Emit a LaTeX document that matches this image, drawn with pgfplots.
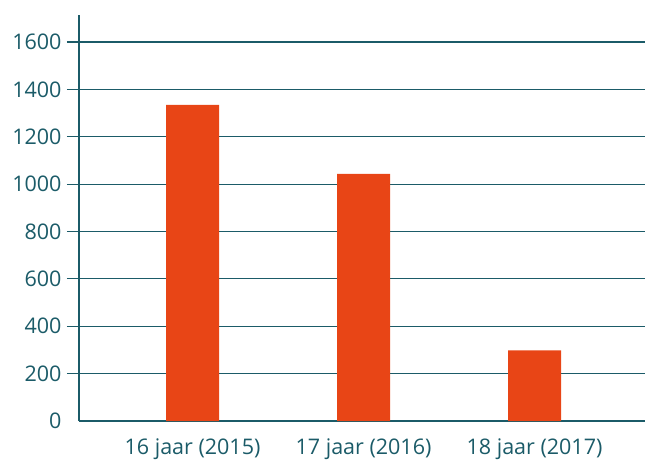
\documentclass[border=0pt]{standalone}
\usepackage{pgfplots}
\pgfplotsset{compat=1.18}
\usepackage{fontspec}
\setmainfont{Open Sans}
\definecolor{tealc}{HTML}{1B5B68}
\definecolor{barred}{HTML}{E84516}
\pgfplotsset{
  layers/mylayers/.define layer set={axis background,axis grid,main,axis ticks,axis lines,axis tick labels,axis descriptions,axis foreground}{},
}
\begin{document}
\begin{tikzpicture}
\begin{axis}[
  set layers=mylayers,
  at={(0,0)}, anchor=south west,
  scale only axis,
  width=566pt, height=406pt,
  xmin=0.336, xmax=3.646,
  ymin=0, ymax=1714,
  axis x line=bottom, axis y line=left,
  axis line style={-, tealc, line width=2.5pt},
  xtick={1,2,3},
  xticklabels={16 jaar (2015),17 jaar (2016),18 jaar (2017)},
  ytick={200,400,...,1600},
  extra y ticks={0},
  extra y tick style={tick style={draw=none}},
  major x tick style={draw=none},
  y tick style={tealc, line width=1.2pt},
  tick align=outside,
  major tick length=12pt,
  ymajorgrids,
  grid style={tealc, line width=1.2pt},
  tick label style={font=\fontsize{21.5}{25}\selectfont, text=tealc},
  /pgf/number format/assume math mode=true,
  /pgf/number format/1000 sep={},
  yticklabel style={xshift=-2pt},
  xticklabel style={yshift=-2.5pt},
]
\addplot[ybar, bar width=53pt, bar shift=0pt, fill=barred, draw=none]
  coordinates {(1,1335) (2,1043) (3,298)};
\end{axis}
\pgfresetboundingbox
\useasboundingbox (-79pt,-38pt) rectangle (567pt,421pt);
\end{tikzpicture}
\end{document}
